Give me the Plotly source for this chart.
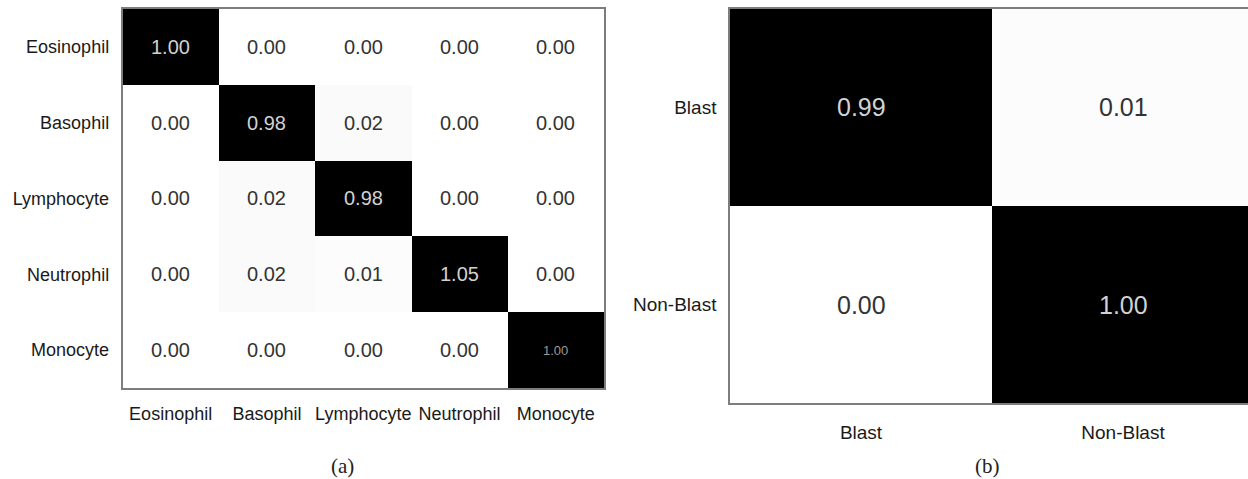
import plotly.graph_objects as go

# Five-class white blood cell confusion matrix (a)
cell_classes = ["Eosinophil", "Basophil", "Lymphocyte", "Neutrophil", "Monocyte"]
cell_values = [
    [1.00, 0.00, 0.00, 0.00, 0.00],
    [0.00, 0.98, 0.02, 0.00, 0.00],
    [0.00, 0.02, 0.98, 0.00, 0.00],
    [0.00, 0.02, 0.01, 1.05, 0.00],
    [0.00, 0.00, 0.00, 0.00, 1.00],
]

# Blast / non-blast confusion matrix (b)
blast_classes = ["Blast", "Non-Blast"]
blast_values = [
    [0.99, 0.01],
    [0.00, 1.00],
]

panel_labels = ["(a)", "(b)"]

W, H = 1248, 479
gray_scale = [[0.0, "#ffffff"], [1.0, "#000000"]]
frame_color = "#7d7d7d"

fig = go.Figure()

fig.add_trace(go.Heatmap(
    z=cell_values,
    x=list(range(len(cell_classes))),
    y=list(range(len(cell_classes))),
    colorscale=gray_scale, zmin=0, zmax=0.98,
    showscale=False, xaxis="x", yaxis="y",
))
fig.add_trace(go.Heatmap(
    z=blast_values,
    x=list(range(len(blast_classes))),
    y=list(range(len(blast_classes))),
    colorscale=gray_scale, zmin=0, zmax=0.99,
    showscale=False, xaxis="x2", yaxis="y2",
))

annotations = []


def value_labels(values, xref, yref, size, small_last=False):
    n = len(values)
    for r, row in enumerate(values):
        for c, v in enumerate(row):
            dark = v > 0.5
            fsize = size
            color = "#d2d2d2" if dark else "#333333"
            if small_last and r == n - 1 and c == n - 1:
                fsize = 13
                color = "#9a9a9a"
            annotations.append(dict(
                x=c, y=r, xref=xref, yref=yref, text=f"{v:.2f}",
                showarrow=False,
                font=dict(family="Liberation Sans, Arial, sans-serif", size=fsize, color=color),
            ))


value_labels(cell_values, "x", "y", 20, small_last=True)
value_labels(blast_values, "x2", "y2", 25)

for label, xc in zip(panel_labels, [342 / W, 987 / W]):
    annotations.append(dict(
        x=xc, y=1 - 466 / H, xref="paper", yref="paper", text=label,
        showarrow=False, xanchor="center", yanchor="middle",
        font=dict(family="Liberation Serif, Times New Roman, serif", size=21, color="#222222"),
    ))

tick_font = dict(family="Liberation Sans, Arial, sans-serif", size=18, color="#1a1a1a")
tick_font_b = dict(family="Liberation Sans, Arial, sans-serif", size=19, color="#1a1a1a")
axis_common = dict(showgrid=False, zeroline=False, ticks="", showline=True,
                   linecolor=frame_color, linewidth=1.5, fixedrange=True)

fig.update_layout(
    width=W, height=H,
    margin=dict(l=0, r=0, t=0, b=0),
    paper_bgcolor="white", plot_bgcolor="white",
    annotations=annotations,
    xaxis=dict(
        domain=[122.5 / W, 604 / W], anchor="y", mirror=True,
        range=[-0.5, len(cell_classes) - 0.5],
        tickvals=list(range(len(cell_classes))), ticktext=cell_classes,
        tickfont=tick_font, ticklabelstandoff=9, **axis_common,
    ),
    yaxis=dict(
        domain=[1 - 388 / H, 1 - 9 / H], anchor="x", mirror=True,
        range=[len(cell_classes) - 0.5, -0.5],
        tickvals=list(range(len(cell_classes))), ticktext=cell_classes,
        tickfont=tick_font, ticklabelstandoff=8, **axis_common,
    ),
    xaxis2=dict(
        domain=[730 / W, 1.0], anchor="y2", mirror=True,
        range=[-0.5, 1.5 - 6 / 262],
        tickvals=list(range(len(blast_classes))), ticktext=blast_classes,
        tickfont=tick_font_b, ticklabelstandoff=11, **axis_common,
    ),
    yaxis2=dict(
        domain=[1 - 403 / H, 1 - 9 / H], anchor="x2",
        range=[len(blast_classes) - 0.5, -0.5],
        tickvals=list(range(len(blast_classes))), ticktext=blast_classes,
        tickfont=tick_font_b, ticklabelstandoff=8, **axis_common,
    ),
)

fig.write_html("out.html")
